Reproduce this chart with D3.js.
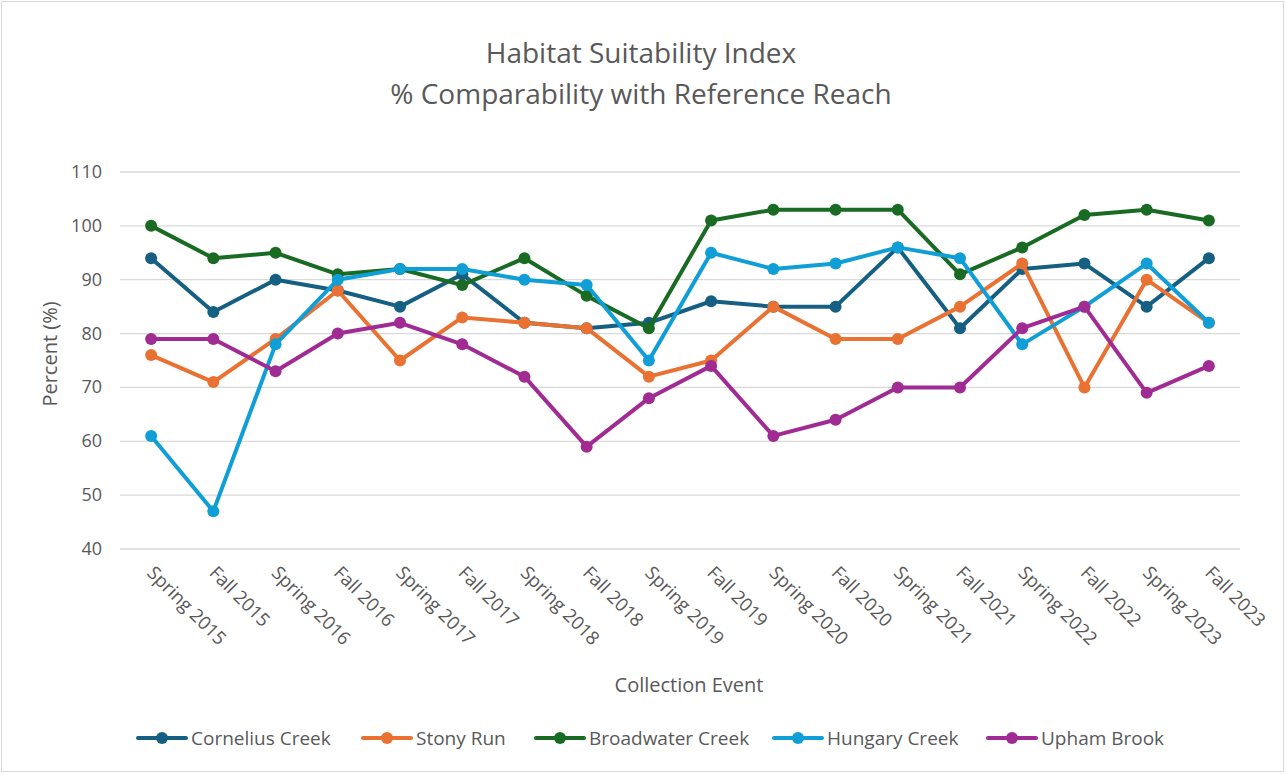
<!DOCTYPE html>
<html>
<head>
<meta charset="utf-8">
<script src="https://cdn.jsdelivr.net/npm/d3@7"></script>
<style>
  body { margin: 0; background: #fff; }
  text { font-family: "Open Sans", Lato, sans-serif; fill: #595959; }
</style>
</head>
<body>
<div id="viz_div"></div>
<script>
// DATA
const events = ["Spring 2015", "Fall 2015", "Spring 2016", "Fall 2016", "Spring 2017", "Fall 2017",
  "Spring 2018", "Fall 2018", "Spring 2019", "Fall 2019", "Spring 2020", "Fall 2020",
  "Spring 2021", "Fall 2021", "Spring 2022", "Fall 2022", "Spring 2023", "Fall 2023"];
const corneliusCreek = [94, 84, 90, 88, 85, 91, 82, 81, 82, 86, 85, 85, 96, 81, 92, 93, 85, 94];
const stonyRun = [76, 71, 79, 88, 75, 83, 82, 81, 72, 75, 85, 79, 79, 85, 93, 70, 90, 82];
const broadwaterCreek = [100, 94, 95, 91, 92, 89, 94, 87, 81, 101, 103, 103, 103, 91, 96, 102, 103, 101];
const hungaryCreek = [61, 47, 78, 90, 92, 92, 90, 89, 75, 95, 92, 93, 96, 94, 78, 85, 93, 82];
const uphamBrook = [79, 79, 73, 80, 82, 78, 72, 59, 68, 74, 61, 64, 70, 70, 81, 85, 69, 74];
const seriesNames = ["Cornelius Creek", "Stony Run", "Broadwater Creek", "Hungary Creek", "Upham Brook"];
const yTicks = [40, 50, 60, 70, 80, 90, 100, 110];

const series = [corneliusCreek, stonyRun, broadwaterCreek, hungaryCreek, uphamBrook]
  .map((vals, i) => ({ name: seriesNames[i], values: vals }));
const colors = ["#156082", "#E97132", "#196B24", "#0F9ED5", "#A02B93"];
const color = d3.scaleOrdinal().domain(seriesNames).range(colors);

const W = 1286, H = 774;
const svg = d3.select("#viz_div").append("svg")
  .attr("width", W).attr("height", H);

// chart border
svg.append("rect")
  .attr("x", 1.5).attr("y", 1.5)
  .attr("width", W - 4).attr("height", H - 4)
  .attr("fill", "#fff").attr("stroke", "#d9d9d9");

// SCALES
const x = d3.scaleBand().domain(events).range([120, 1240]);
const y = d3.scaleLinear().domain([40, 110]).range([549, 172]);
const cx = d => x(d) + x.bandwidth() / 2;

// TITLE
svg.append("text").attr("x", 641).attr("y", 63).attr("text-anchor", "middle")
  .style("font-size", "28px").text("Habitat Suitability Index");
svg.append("text").attr("x", 641).attr("y", 104).attr("text-anchor", "middle")
  .style("font-size", "28px").text("% Comparability with Reference Reach");

// GRIDLINES + Y AXIS
svg.append("g").selectAll("line").data(yTicks).enter().append("line")
  .attr("x1", 120).attr("x2", 1240)
  .attr("y1", d => y(d)).attr("y2", d => y(d))
  .attr("stroke", "#d9d9d9").attr("stroke-width", 1.3);

svg.append("g").selectAll("text").data(yTicks).enter().append("text")
  .attr("x", 102).attr("y", d => y(d) + 6)
  .attr("text-anchor", "end").style("font-size", "18px")
  .text(d => d);

svg.append("text")
  .attr("transform", "translate(57,354) rotate(-90)")
  .attr("text-anchor", "middle").style("font-size", "20px")
  .text("Percent (%)");

// X LABELS
svg.append("g").selectAll("text").data(events).enter().append("text")
  .attr("transform", d => `translate(${cx(d) - 5},${574}) rotate(45)`)
  .attr("text-anchor", "start").style("font-size", "18.5px")
  .text(d => d);

svg.append("text").attr("x", 689).attr("y", 692).attr("text-anchor", "middle")
  .style("font-size", "20px").text("Collection Event");

// LINES + MARKERS
const line = d3.line()
  .x((d, i) => cx(events[i]))
  .y(d => y(d));

series.forEach(s => {
  const g = svg.append("g");
  g.append("path")
    .datum(s.values)
    .attr("fill", "none")
    .attr("stroke", color(s.name))
    .attr("stroke-width", 4)
    .attr("stroke-linejoin", "round")
    .attr("d", line);
  g.selectAll("circle").data(s.values).enter().append("circle")
    .attr("cx", (d, i) => cx(events[i]))
    .attr("cy", d => y(d))
    .attr("r", 6)
    .attr("fill", color(s.name));
});

// LEGEND
const legendX = [138, 363, 536, 774, 988];
const leg = svg.append("g").selectAll("g").data(seriesNames).enter().append("g")
  .attr("transform", (d, i) => `translate(${legendX[i]},738)`);
leg.append("line").attr("x1", 0).attr("x2", 48).attr("y1", 0).attr("y2", 0)
  .attr("stroke", d => color(d)).attr("stroke-width", 4).attr("stroke-linecap", "round");
leg.append("circle").attr("cx", 24).attr("cy", 0).attr("r", 6).attr("fill", d => color(d));
leg.append("text").attr("x", 53).attr("y", 7).style("font-size", "19px").text(d => d);
</script>
</body>
</html>
